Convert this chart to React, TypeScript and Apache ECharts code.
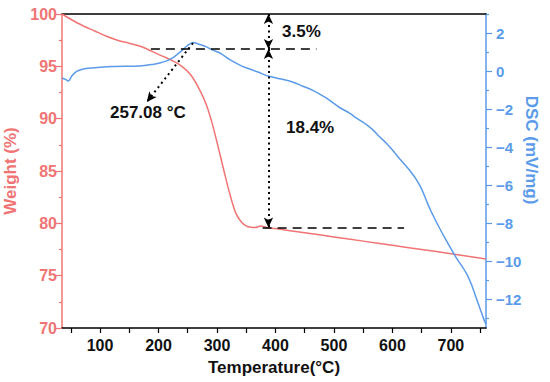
import React, { useEffect, useRef } from "react";
import * as echarts from "echarts";

const weightT = [35, 50, 70, 90, 110, 130, 150, 170, 190, 210, 225, 240, 255, 270, 282, 292, 302, 312, 322, 332, 342, 352, 365, 375, 385, 400, 450, 500, 550, 600, 650, 700, 760];
const weightV = [100, 99.5, 98.9, 98.4, 97.9, 97.5, 97.2, 96.9, 96.4, 95.9, 95.5, 95.0, 94.2, 92.8, 91.3, 89.5, 87.3, 85.0, 82.8, 81.0, 80.1, 79.7, 79.6, 79.75, 79.6, 79.5, 79.1, 78.7, 78.3, 77.9, 77.5, 77.1, 76.6];

const dscT = [35, 40, 46, 52, 60, 70, 85, 120, 168, 190, 202, 215, 224, 233, 241, 250, 259, 270, 282, 293, 305, 322, 340, 351, 370, 387, 410, 429, 446, 463, 486, 509, 526, 540, 555, 567, 578, 590, 600, 615, 629, 641, 650, 658, 665, 678, 692, 709, 726, 735, 743, 750, 757, 760];
const dscV = [-0.36, -0.42, -0.52, -0.25, -0.02, 0.1, 0.16, 0.24, 0.27, 0.35, 0.42, 0.55, 0.69, 0.9, 1.1, 1.35, 1.5, 1.4, 1.27, 1.1, 0.95, 0.6, 0.3, 0.16, -0.05, -0.26, -0.42, -0.57, -0.78, -1.0, -1.4, -1.9, -2.2, -2.5, -2.8, -3.1, -3.45, -3.8, -4.15, -4.7, -5.2, -5.7, -6.2, -6.8, -7.3, -8.1, -8.9, -9.8, -10.6, -11.2, -11.9, -12.5, -13.1, -13.3];

const xLabelValues = [100, 200, 300, 400, 500, 600, 700];
const xTickValues = [50, 100, 150, 200, 250, 300, 350, 400, 450, 500, 550, 600, 650, 700, 750];
const dscLabelValues = [-12, -10, -8, -6, -4, -2, 0, 2];
const dscMinorValues = [-13, -11, -9, -7, -5, -3, -1, 1, 3];

// annotation anchors (temperature, weight)
const upperLevel = 96.65;
const lowerLevel = 79.6;
const arrowT = 388;
const peakT = 259;
const peakW = 97.23;
const peakLabelT = 180;
const peakLabelW = 91.6;

const RED = "#F07474";
const BLUE = "#5B9BEA";
const FONT = "'Liberation Sans', Arial, sans-serif";

export default function App() {
  const ref = useRef<HTMLDivElement>(null);
  useEffect(() => {
    if (!ref.current) return;
    const chart = echarts.init(ref.current, null, { renderer: "svg" });
    const dashed = { type: [9, 6], color: "#000", width: 1.5 };
    const dotted = { type: [2, 3.5], color: "#000", width: 2 };
    chart.setOption({
      animation: false,
      textStyle: { fontFamily: FONT },
      grid: { left: 62, right: 64, top: 14, bottom: 54, containLabel: false, outerBoundsMode: "none" },
      xAxis: [
        {
          type: "value",
          min: 35,
          max: 760,
          position: "bottom",
          axisLine: { onZero: false, lineStyle: { color: "#000", width: 1.5 } },
          axisTick: { show: true, inside: false, length: 5, customValues: xTickValues, lineStyle: { color: "#000", width: 1.2 } },
          axisLabel: { customValues: xLabelValues, color: "#111", fontSize: 16, fontWeight: "bold", margin: 9, fontFamily: FONT },
          splitLine: { show: false },
          name: "Temperature(°C)",
          nameLocation: "middle",
          nameGap: 31,
          nameTextStyle: { fontSize: 17, fontWeight: "bold", color: "#111", fontFamily: FONT },
        },
        {
          type: "value",
          min: 35,
          max: 760,
          position: "top",
          axisLine: { show: true, onZero: false, lineStyle: { color: "#000", width: 1.5 } },
          axisTick: { show: false },
          axisLabel: { show: false },
          splitLine: { show: false },
        },
      ],
      yAxis: [
        {
          type: "value",
          min: 70,
          max: 100,
          interval: 5,
          position: "left",
          axisLine: { show: true, onZero: false, lineStyle: { color: RED, width: 1.5 } },
          axisTick: { show: true, inside: false, length: 6, lineStyle: { color: RED, width: 1.2 } },
          minorTick: { show: true, splitNumber: 2, length: 3, lineStyle: { color: RED, width: 1.2 } },
          axisLabel: { color: RED, fontSize: 16, fontWeight: "bold", margin: 5, fontFamily: FONT },
          splitLine: { show: false },
          name: "Weight (%)",
          nameLocation: "middle",
          nameGap: 37,
          nameTextStyle: { fontSize: 17, fontWeight: "bold", color: RED, fontFamily: FONT },
        },
        {
          type: "value",
          min: -13.5,
          max: 3,
          position: "right",
          axisLine: { show: true, onZero: false, lineStyle: { color: BLUE, width: 1.5 } },
          axisTick: { show: true, inside: false, length: 6, customValues: dscLabelValues, lineStyle: { color: BLUE, width: 1.2 } },
          axisLabel: {
            customValues: dscLabelValues,
            color: BLUE,
            fontSize: 15,
            fontWeight: "bold",
            margin: 10,
            fontFamily: FONT,
            formatter: (v: number) => String(v).replace("-", "\u2212"),
          },
          splitLine: { show: false },
        },
        {
          type: "value",
          min: -13.5,
          max: 3,
          position: "right",
          axisLine: { show: false, onZero: false },
          axisTick: { show: true, inside: false, length: 3, customValues: dscMinorValues, lineStyle: { color: BLUE, width: 1.2 } },
          axisLabel: { show: false },
          splitLine: { show: false },
        },
      ],
      series: [
        {
          type: "line",
          name: "Weight",
          xAxisIndex: 0,
          yAxisIndex: 0,
          showSymbol: false,
          smooth: 0.3,
          lineStyle: { color: RED, width: 1.5 },
          itemStyle: { color: RED },
          data: weightT.map((t, i) => [t, weightV[i]]),
          markLine: {
            silent: true,
            symbolSize: [7, 10],
            label: { show: false },
            emphasis: { disabled: true },
            data: [
              [
                { coord: [187, upperLevel], symbol: "none", lineStyle: dashed },
                { coord: [470, upperLevel], symbol: "none" },
              ],
              [
                { coord: [378, lowerLevel], symbol: "none", lineStyle: dashed },
                { coord: [620, lowerLevel], symbol: "none" },
              ],
              [
                { coord: [arrowT, 100], symbol: "arrow", lineStyle: dotted },
                { coord: [arrowT, upperLevel], symbol: "arrow" },
              ],
              [
                { coord: [arrowT, upperLevel], symbol: "arrow", lineStyle: dotted },
                { coord: [arrowT, lowerLevel], symbol: "arrow" },
              ],
              [
                { coord: [peakT, peakW], symbol: "none", lineStyle: dotted },
                { coord: [peakLabelT, peakLabelW], symbol: "arrow" },
              ],
            ],
          },
        },
        {
          type: "line",
          name: "DSC",
          xAxisIndex: 0,
          yAxisIndex: 1,
          showSymbol: false,
          smooth: 0.3,
          lineStyle: { color: BLUE, width: 1.5 },
          itemStyle: { color: BLUE },
          data: dscT.map((t, i) => [t, dscV[i]]),
        },
      ],
      graphic: [
        { type: "text", left: 110, top: 104, style: { text: "257.08 °C", font: `bold 17px ${FONT}`, fill: "#111" } },
        { type: "text", left: 282, top: 23, style: { text: "3.5%", font: `bold 17px ${FONT}`, fill: "#111" } },
        { type: "text", left: 286, top: 119, style: { text: "18.4%", font: `bold 17px ${FONT}`, fill: "#111" } },
        {
          type: "text",
          x: 531,
          y: 150,
          rotation: -Math.PI / 2,
          style: { text: "DSC (mV/mg)", font: `bold 17px ${FONT}`, fill: BLUE, align: "center", verticalAlign: "middle" },
        },
      ],
    });
    return () => chart.dispose();
  }, []);
  return <div ref={ref} style={{ width: 550, height: 382, position: "absolute", left: 0, top: 0 }} />;
}
